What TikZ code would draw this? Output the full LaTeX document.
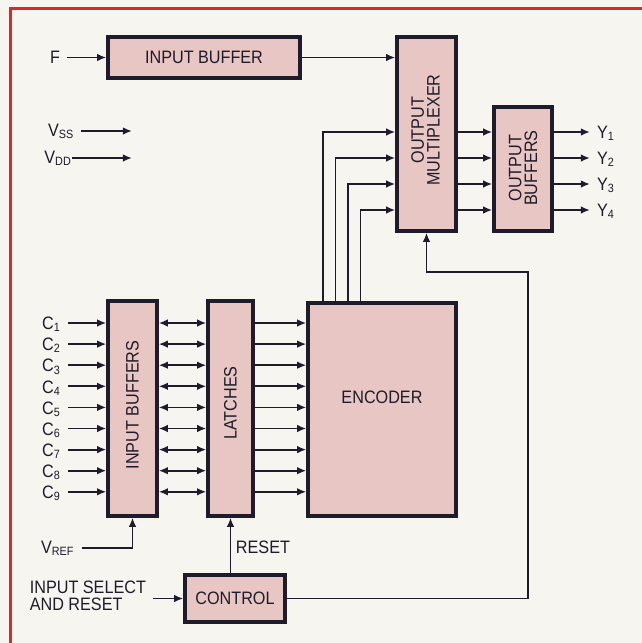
\documentclass[tikz,border=0pt]{standalone}
\usepackage{fontspec}
\setmainfont{Liberation Sans}[FakeStretch=0.9]
\usetikzlibrary{arrows.meta,positioning,calc}
\definecolor{blkPink}{HTML}{E8C6C4}
\definecolor{frameRed}{HTML}{D62B2B}
\definecolor{paper}{HTML}{F7F5F0}
\definecolor{ink}{HTML}{1E1C2A}

\begin{document}
\begin{tikzpicture}[
  x=0.5pt, y=-0.5pt,
  font=\fontsize{9}{7.8}\selectfont,
  every node/.style={text=ink},
  blk/.style={draw=ink, line width=1.7pt, fill=blkPink, inner sep=0pt, align=center},
  vtxt/.style={rotate=90, align=center, inner sep=0pt},
  arr/.style={-{Latex[length=4.6pt,width=3.8pt]}, line width=0.9pt, draw=ink},
  darr/.style={{Latex[length=4.6pt,width=3.8pt]}-{Latex[length=4.6pt,width=3.8pt]}, line width=0.9pt, draw=ink}
]
  \fill[paper] (0,0) rectangle (642,643);
  \useasboundingbox (0,0) rectangle (642,643);
  \draw[frameRed, line width=1.5pt] (642,8) -- (10,8) -- (10,643);

  \node[blk, minimum width=96pt, minimum height=20.5pt] (ibuf) at (204,57.5) {INPUT BUFFER};
  \node[blk, minimum width=29.5pt, minimum height=97pt] (mux) at (426.5,134) {};
  \node[vtxt] (muxtxt) at (425.5,130) {OUTPUT\\MULTIPLEXER};
  \node[blk, minimum width=29pt, minimum height=62pt] (obuf) at (523,169) {};
  \node[vtxt] (obuftxt) at (523,168) {OUTPUT\\BUFFERS};
  \node[blk, minimum width=74pt, minimum height=106.5pt] (enc) at (382,409.5) {};
  \node (enctxt) at (382,397) {ENCODER};
  \node[blk, minimum width=24.5pt, minimum height=107.5pt] (inbufs) at (132.5,408.5) {};
  \node[vtxt] (inbufstxt) at (132.5,405) {INPUT BUFFERS};
  \node[blk, minimum width=22.5pt, minimum height=107.5pt] (latch) at (230.5,408.5) {};
  \node[vtxt] (latchtxt) at (230.5,403) {LATCHES};
  \node[blk, minimum width=50pt, minimum height=23.5pt] (ctrl) at (235,598.5) {CONTROL};

  \node (f) at (55,57.5) {F};
  \draw[arr] (f) -- (ibuf);
  \draw[arr] (ibuf.east) -- (ibuf.east -| mux.west);

  \node[anchor=west] (vss) at (41,131) {V\textsubscript{SS}};
  \coordinate (vssend) at (132,131);
  \draw[arr] (vss) -- (vssend);
  \node[anchor=west, inner xsep=0pt] (vdd) at (44,158) {V\textsubscript{DD}};
  \coordinate (vddend) at (132,158);
  \draw[arr] (vdd) -- (vddend);

  \foreach \i [evaluate=\i as \y using 323+(\i-1)*21.1] in {1,...,9} {
    \coordinate (r\i) at (0,\y);
    \node[anchor=east] (c\i) at (68,{\y+1.5}) {C\textsubscript{\i}};
    \draw[arr] (c\i.east |- r\i) -- (inbufs.west |- r\i);
    \draw[darr] (inbufs.east |- r\i) -- (latch.west |- r\i);
    \draw[arr] (latch.east |- r\i) -- (enc.west |- r\i);
  }

  \foreach \i/\y/\x in {1/132/323, 2/158/335.5, 3/184/348, 4/210/360.5} {
    \coordinate (m\i) at (\x,\y);
    \node[anchor=west] (y\i) at (590,{\y+1.5}) {Y\textsubscript{\i}};
    \draw[arr] (enc.north -| m\i) -- (m\i) -- (mux.west |- m\i);
    \draw[arr] (mux.east |- m\i) -- (obuf.west |- m\i);
    \draw[arr] (obuf.east |- m\i) -- (y\i.west |- m\i);
  }

  \node[anchor=west] (vref) at (34,548) {V\textsubscript{REF}};
  \draw[arr] (vref.east) -| (inbufs.south);

  \node (rst) at (263,547) {RESET};
  \draw[arr] (ctrl.north -| latch.south) -- (latch.south);

  \node[align=left, anchor=east, font=\fontsize{9}{8.6}\selectfont] (isel) at (153,596) {INPUT SELECT\\AND RESET};
  \draw[arr] (isel.east |- ctrl) -- (ctrl);

  \coordinate (cbend) at (528,272);
  \draw[arr] (ctrl.east) -| (cbend) -| (mux.south);
\end{tikzpicture}
\end{document}
